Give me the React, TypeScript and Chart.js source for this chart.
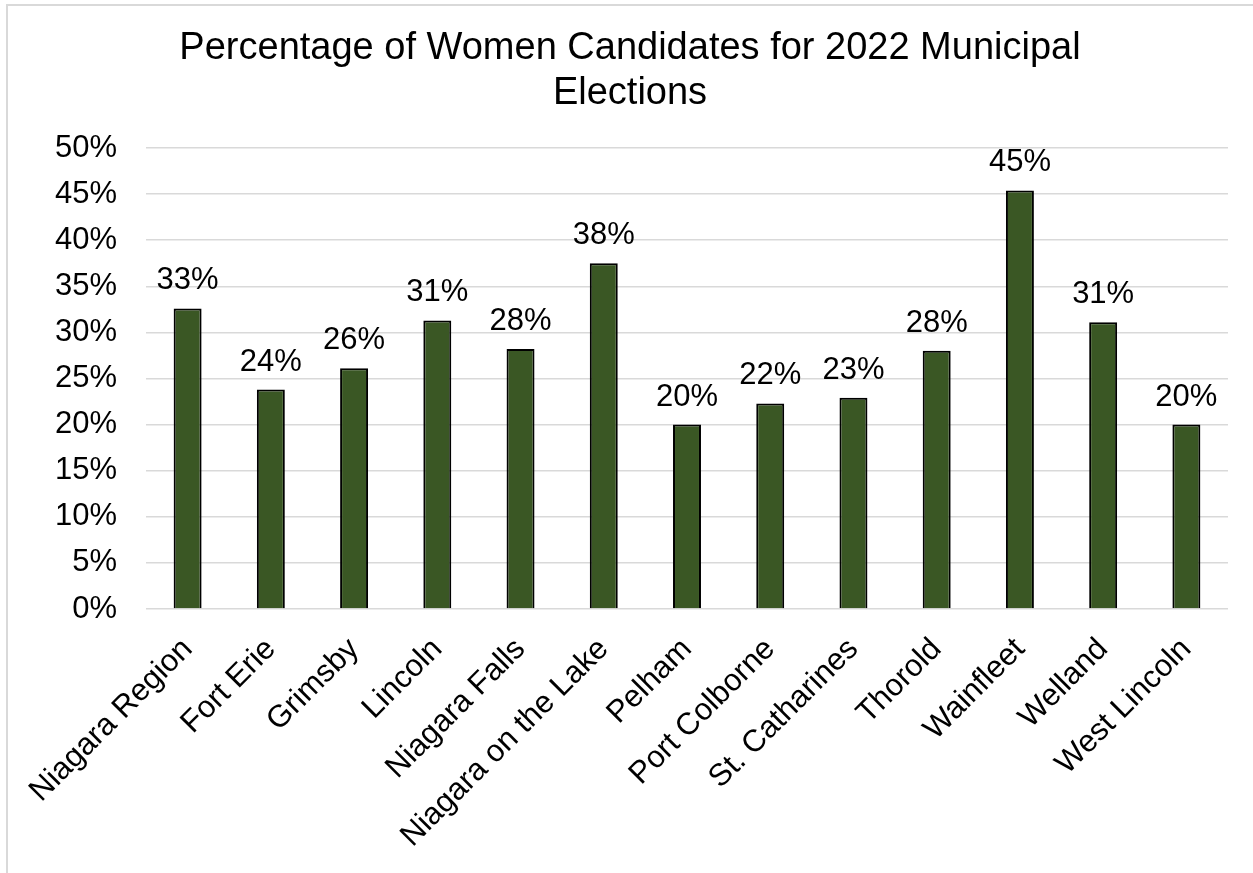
import React, { useEffect, useRef } from "react";
import { Chart, registerables } from "chart.js";

Chart.register(...registerables);

const categories = [
  "Niagara Region",
  "Fort Erie",
  "Grimsby",
  "Lincoln",
  "Niagara Falls",
  "Niagara on the Lake",
  "Pelham",
  "Port Colborne",
  "St. Catharines",
  "Thorold",
  "Wainfleet",
  "Welland",
  "West Lincoln",
];

const percentValues = [32.6, 23.8, 26.1, 31.3, 28.2, 37.5, 20.0, 22.3, 22.9, 28.0, 45.4, 31.1, 20.0];

const titleLines = ["Percentage of Women Candidates for 2022 Municipal", "Elections"];

const FONT = "'Liberation Sans', Arial, sans-serif";

const dataLabelPlugin = {
  id: "dataLabels",
  afterDatasetsDraw(chart: any) {
    const ctx = chart.ctx;
    const meta = chart.getDatasetMeta(0);
    const data = chart.data.datasets[0].data as number[];
    ctx.save();
    ctx.font = `31px ${FONT}`;
    ctx.fillStyle = "#000000";
    ctx.textAlign = "center";
    ctx.textBaseline = "alphabetic";
    meta.data.forEach((bar: any, i: number) => {
      ctx.fillText(`${Math.round(data[i])}%`, bar.x, bar.y - 19);
    });
    ctx.restore();
  },
};

export default function App() {
  const canvasRef = useRef<HTMLCanvasElement | null>(null);

  useEffect(() => {
    if (!canvasRef.current) return;
    const chart = new Chart(canvasRef.current, {
      type: "bar",
      data: {
        labels: categories,
        datasets: [
          {
            data: percentValues,
            backgroundColor: "#3a5724",
            borderColor: "#000000",
            borderWidth: 2,
            barPercentage: 0.336,
            categoryPercentage: 1,
          },
        ],
      },
      options: {
        animation: false,
        responsive: false,
        maintainAspectRatio: false,
        devicePixelRatio: 1,
        layout: { padding: { top: 16, left: 32, right: 25, bottom: 0 } },
        plugins: {
          legend: { display: false },
          tooltip: { enabled: false },
          title: {
            display: true,
            text: titleLines,
            color: "#000000",
            font: { family: FONT, size: 38, weight: "normal", lineHeight: 1.184 },
            padding: { top: 10, bottom: 32 },
          },
        },
        scales: {
          x: {
            grid: { display: false },
            border: { display: false },
            ticks: {
              color: "#000000",
              font: { family: FONT, size: 31 },
              minRotation: 45,
              maxRotation: 45,
              autoSkip: false,
              padding: 14,
            },
            afterFit: (scale: any) => {
              scale.height = 264;
            },
          },
          y: {
            min: 0,
            max: 50,
            grid: { color: "#d9d9d9", lineWidth: 1.5, drawTicks: false },
            border: { display: false },
            ticks: {
              stepSize: 5,
              color: "#000000",
              font: { family: FONT, size: 31 },
              padding: 29,
              callback: (v: any) => `${v}%`,
            },
            afterFit: (scale: any) => {
              scale.width = 114;
            },
          },
        },
      },
      plugins: [dataLabelPlugin],
    });
    return () => chart.destroy();
  }, []);

  return (
    <div style={{ position: "fixed", left: 0, top: 0, width: 1253, height: 873, background: "#ffffff", overflow: "hidden" }}>
      <div
        style={{
          position: "absolute",
          left: 6,
          top: 4,
          width: 1300,
          height: 1000,
          border: "2px solid #d9d9d9",
        }}
      />
      <canvas ref={canvasRef} width={1253} height={873} style={{ position: "absolute", left: 0, top: 0, width: 1253, height: 873 }} />
    </div>
  );
}
